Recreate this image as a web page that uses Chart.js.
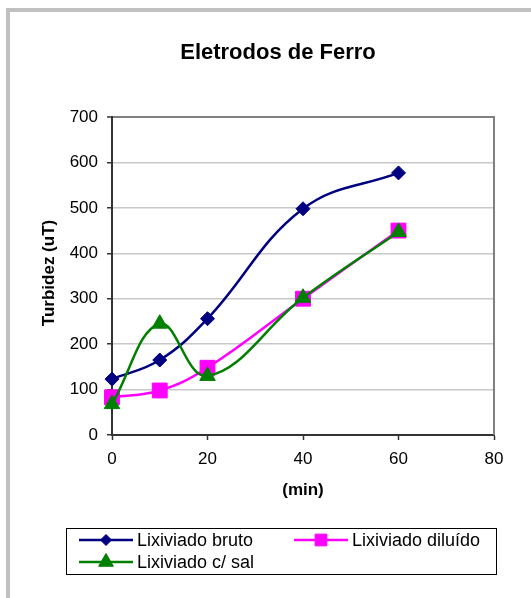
<!DOCTYPE html>
<html>
<head>
<meta charset="utf-8">
<script src="https://cdn.jsdelivr.net/npm/chart.js@4/dist/chart.umd.min.js"></script>
<style>
  html, body { margin: 0; padding: 0; background: #fff; overflow: hidden; }
  #wrap { width: 531px; height: 598px; position: relative; }
</style>
</head>
<body>
<div id="wrap"><canvas id="c" width="531" height="598"></canvas></div>
<script>
// Tempo de ensaio (min) e turbidez medida (uT)
const tempos = [0, 10, 20, 40, 60];
const lixBruto = [123, 165, 256, 498, 577];
const lixDiluido = [83, 98, 148, 300, 450];
const lixSal = [68, 245, 130, 302, 447];

const xTicks = [0, 20, 40, 60, 80];
const yTicks = [0, 100, 200, 300, 400, 500, 600, 700];

const titulo = 'Eletrodos de Ferro';
const tituloY = 'Turbidez (uT)';
const tituloX = '(min)';
const nomes = ['Lixiviado bruto', 'Lixiviado diluído', 'Lixiviado c/ sal'];

const FONT = '"Liberation Sans", Arial, Helvetica, sans-serif';
Chart.defaults.font.family = FONT;
Chart.defaults.color = '#000';

const pares = ys => tempos.map((t, i) => ({ x: t, y: ys[i] }));

// Legenda: amostra de linha + marcador, em caixa com borda
const legendaPos = [
  { x1: 79, x2: 133, y: 540, tx: 137, r: 5.5 },
  { x1: 294, x2: 348, y: 540, tx: 352, r: 8.3 },
  { x1: 79, x2: 133, y: 562, tx: 137, r: 8.5 }
];

const decoracao = {
  id: 'decoracao',
  beforeDraw(chart) {
    const ctx = chart.ctx;
    ctx.save();
    ctx.fillStyle = '#fff';
    ctx.fillRect(0, 0, chart.width, chart.height);
    // moldura cinza da área do gráfico
    ctx.fillStyle = '#c0c0c0';
    ctx.fillRect(6, 8, 4, chart.height - 8);
    ctx.fillRect(6, 8, chart.width - 6, 4);
    ctx.restore();
  },
  beforeDatasetsDraw(chart) {
    const { ctx, chartArea: a } = chart;
    ctx.save();
    ctx.strokeStyle = '#808080';
    ctx.lineWidth = 2;
    ctx.beginPath();
    ctx.moveTo(a.right, a.top - 1);
    ctx.lineTo(a.right, a.bottom);
    ctx.stroke();
    ctx.restore();
  },
  afterDraw(chart) {
    const { ctx, chartArea: a } = chart;
    ctx.save();
    ctx.fillStyle = '#000';
    ctx.textAlign = 'center';
    ctx.textBaseline = 'alphabetic';
    ctx.font = 'bold 22px ' + FONT;
    ctx.fillText(titulo, 278, 59);

    ctx.font = 'bold 17px ' + FONT;
    ctx.textBaseline = 'middle';
    ctx.fillText(tituloX, (a.left + a.right) / 2, 490);
    ctx.save();
    ctx.translate(49, 273);
    ctx.rotate(-Math.PI / 2);
    ctx.fillText(tituloY, 0, 0);
    ctx.restore();

    // caixa da legenda
    ctx.strokeStyle = '#000';
    ctx.lineWidth = 1;
    ctx.strokeRect(66.5, 528.5, 430, 46);
    ctx.font = '18px ' + FONT;
    ctx.textAlign = 'left';
    ctx.textBaseline = 'alphabetic';
    chart.data.datasets.forEach((ds, i) => {
      const p = legendaPos[i];
      ctx.strokeStyle = ds.borderColor;
      ctx.lineWidth = 2.5;
      ctx.beginPath();
      ctx.moveTo(p.x1, p.y);
      ctx.lineTo(p.x2, p.y);
      ctx.stroke();
      ctx.fillStyle = ds.pointBackgroundColor;
      ctx.strokeStyle = ds.pointBorderColor;
      ctx.lineWidth = 1;
      Chart.helpers.drawPoint(ctx, { pointStyle: ds.pointStyle, radius: p.r, rotation: 0, borderWidth: 1 }, (p.x1 + p.x2) / 2, p.y);
      ctx.fillStyle = '#000';
      ctx.fillText(ds.label, p.tx, p.y + 6);
    });
    ctx.restore();
  }
};

new Chart(document.getElementById('c'), {
  type: 'line',
  data: {
    datasets: [
      {
        label: nomes[0], data: pares(lixBruto), order: 3,
        borderColor: '#000080', borderWidth: 2.5,
        pointStyle: 'rectRot', pointRadius: 7,
        pointBackgroundColor: '#000080', pointBorderColor: '#000080', pointBorderWidth: 1,
        tension: 0.4, clip: false
      },
      {
        label: nomes[1], data: pares(lixDiluido), order: 2,
        borderColor: '#ff00ff', borderWidth: 2.5,
        pointStyle: 'rect', pointRadius: 10.5,
        pointBackgroundColor: '#ff00ff', pointBorderColor: '#ff00ff', pointBorderWidth: 1,
        tension: 0.4, clip: false
      },
      {
        label: nomes[2], data: pares(lixSal), order: 1,
        borderColor: '#008000', borderWidth: 2.5,
        pointStyle: 'triangle', pointRadius: 9,
        pointBackgroundColor: '#008000', pointBorderColor: '#008000', pointBorderWidth: 1,
        tension: 0.4, clip: false
      }
    ]
  },
  options: {
    responsive: false,
    animation: false,
    events: [],
    layout: { autoPadding: false, padding: { top: 117, right: 37, left: 0, bottom: 0 } },
    plugins: { legend: { display: false }, title: { display: false }, tooltip: { enabled: false } },
    scales: {
      x: {
        type: 'linear', min: 0, max: 80,
        afterBuildTicks: s => { s.ticks = xTicks.map(v => ({ value: v })); },
        afterFit: s => { s.height = 163; },
        ticks: { font: { size: 17 }, color: '#000', padding: 9 },
        grid: { drawOnChartArea: false, drawTicks: true, tickLength: 5, tickColor: '#333', tickWidth: 1.5 },
        border: { color: '#333', width: 2 }
      },
      y: {
        type: 'linear', min: 0, max: 700,
        afterBuildTicks: s => { s.ticks = yTicks.map(v => ({ value: v })); },
        afterFit: s => { s.width = 112; },
        ticks: { font: { size: 17 }, color: '#000', padding: 9 },
        grid: {
          drawTicks: true, tickLength: 5, tickColor: '#333', tickWidth: 1.5,
          color: c => c.tick.value === 700 ? '#808080' : (c.tick.value === 0 ? 'rgba(0,0,0,0)' : '#c8c8c8'),
          lineWidth: c => c.tick.value === 700 ? 2 : 1.5
        },
        border: { color: '#333', width: 2 }
      }
    }
  },
  plugins: [decoracao]
});
</script>
</body>
</html>
